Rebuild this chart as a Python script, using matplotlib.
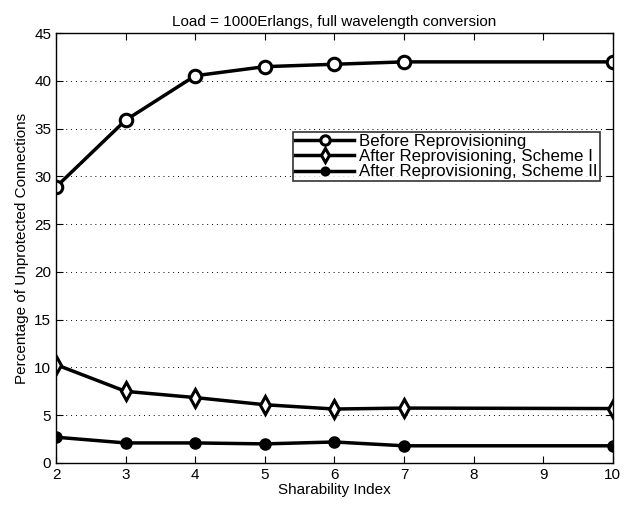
import matplotlib
matplotlib.use("Agg")
import matplotlib.pyplot as plt

plt.rcParams['font.family'] = ['Liberation Sans', 'DejaVu Sans']

x = [2, 3, 4, 5, 6, 7, 10]
before = [28.9, 35.9, 40.55, 41.5, 41.75, 42.0, 42.0]
scheme1 = [10.3, 7.5, 6.85, 6.1, 5.65, 5.75, 5.7]
scheme2 = [2.7, 2.1, 2.1, 2.0, 2.2, 1.8, 1.8]
labels = ['Before Reprovisioning', 'After Reprovisioning, Scheme I', 'After Reprovisioning, Scheme II']
xticks = [2, 3, 4, 5, 6, 7, 8, 9, 10]
yticks = list(range(0, 46, 5))

fig = plt.figure(figsize=(6.37, 5.08), dpi=100)
ax = fig.add_axes([0.088, 0.0886, 0.874, 0.846])

ax.plot(x, before, color='black', lw=2.5, marker='o', ms=9, mfc='white', mew=2.2, label=labels[0])
ax.plot(x, scheme1, color='black', lw=2.5, marker='d', ms=9, mfc='white', mew=2.2, label=labels[1])
ax.plot(x, scheme2, color='black', lw=2.5, marker='o', ms=7, mfc='black', mew=2, label=labels[2])

ax.set_xlim(2, 10)
ax.set_ylim(0, 45)
ax.set_xticks(xticks)
ax.set_yticks(yticks)
ax.tick_params(direction='in', top=True, right=True, labelsize=11, length=5)
ax.yaxis.grid(True, linestyle=(0, (1, 4)), color='black', lw=0.7)
ax.set_xlabel('Sharability Index', fontsize=11, labelpad=1)
ax.set_ylabel('Percentage of Unprotected Connections', fontsize=11)
ax.set_title('Load = 1000Erlangs, full wavelength conversion', fontsize=11, pad=5)
for s in ax.spines.values():
    s.set_linewidth(1)

leg = ax.legend(loc='lower right', bbox_to_anchor=(0.977, 0.655), fontsize=12.2, frameon=True,
                fancybox=False, edgecolor='black', handlelength=3.5, borderpad=0.12,
                labelspacing=0.02, handletextpad=0.3, borderaxespad=0, markerscale=0.75)
leg.get_frame().set_linewidth(1.2)

fig.savefig('out.png', dpi=100)
